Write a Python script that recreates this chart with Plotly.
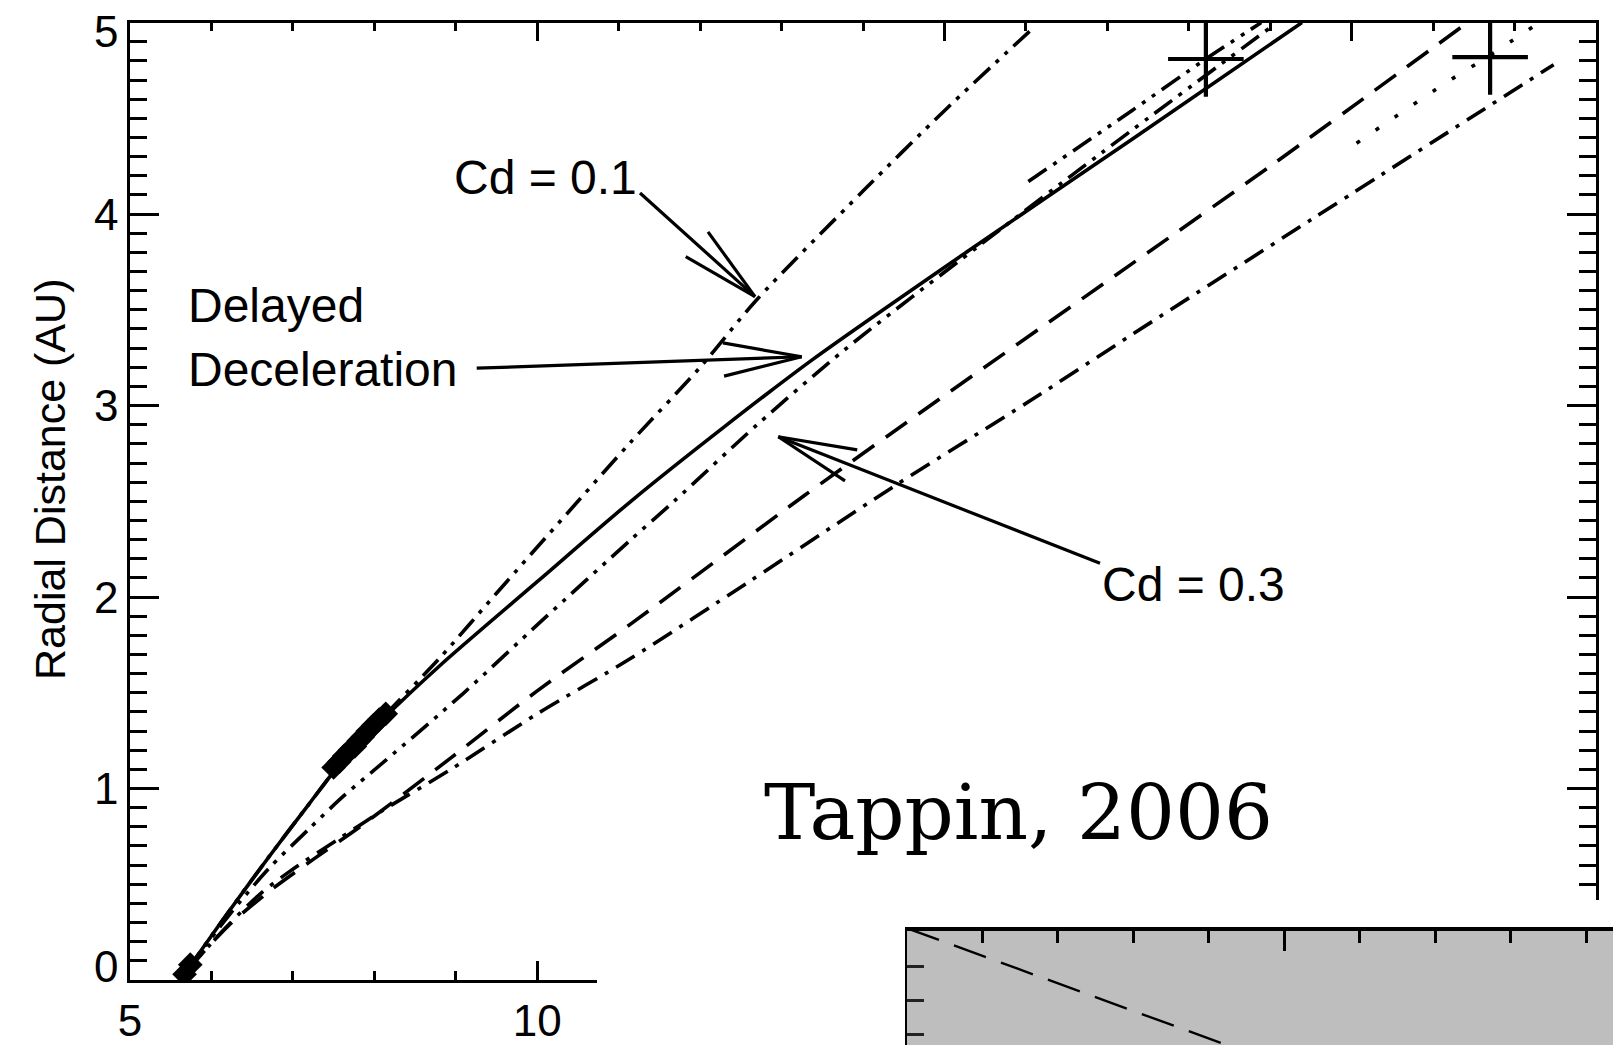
import math
import plotly.graph_objects as go

# ---------------------------------------------------------------------------
# Data: heliocentric distance (AU) against time (days)
# ---------------------------------------------------------------------------
# delayed-deceleration fit (solid)
delayed_t = [5.70, 6.20, 6.70, 7.20, 7.60, 8.10, 8.80, 10.00, 11.15, 12.30, 13.38, 15.30, 17.30, 19.39]
delayed_r = [0.05, 0.35, 0.64, 0.92, 1.14, 1.36, 1.64, 2.08, 2.50, 2.89, 3.24, 3.81, 4.39, 5.00]

# drag fit, Cd = 0.1 (dash-dot-dot, steepest)
cd01_t = [5.70, 6.20, 6.70, 7.20, 7.60, 8.10, 8.80, 9.50, 10.50, 11.15, 12.00, 12.69, 14.00, 15.00, 16.11]
cd01_r = [0.05, 0.35, 0.64, 0.92, 1.14, 1.37, 1.68, 2.02, 2.50, 2.81, 3.20, 3.55, 4.12, 4.54, 4.98]

# drag fit, Cd = 0.3 (dash-dot-dot, just under the solid curve)
cd03_t = [5.70, 6.20, 6.70, 7.20, 7.62, 8.12, 9.10, 10.04, 11.15, 11.68, 12.70, 13.77, 15.41, 16.93, 19.02]
cd03_r = [0.05, 0.33, 0.58, 0.79, 0.96, 1.14, 1.50, 1.87, 2.30, 2.50, 2.90, 3.29, 3.83, 4.32, 4.98]

# dashed fit
dashed_t = [5.70, 6.20, 6.70, 7.25, 7.79, 8.20, 8.94, 10.00, 11.15, 13.28, 14.96, 17.30, 19.00, 21.39]
dashed_r = [0.05, 0.28, 0.46, 0.63, 0.79, 0.92, 1.16, 1.51, 1.86, 2.53, 3.04, 3.74, 4.25, 4.99]

# dash-dot fit (lowest)
dashdot_t = [5.70, 6.19, 6.60, 6.97, 7.54, 8.12, 8.94, 10.00, 11.15, 12.60, 14.35, 16.07, 17.30, 19.50, 22.48]
dashdot_r = [0.05, 0.28, 0.45, 0.57, 0.73, 0.89, 1.10, 1.39, 1.68, 2.08, 2.57, 3.03, 3.37, 3.97, 4.78]

# late refits through the two "+" points
refit_a_t = [16.03, 17.30, 18.21, 18.89]
refit_a_r = [4.17, 4.54, 4.81, 5.00]
refit_b_t = [20.06, 21.10, 21.70, 22.30]
refit_b_r = [4.37, 4.67, 4.83, 5.00]

# observed positions (diamonds) and far-field detections (+)
obs_t = [5.67, 5.74, 7.50, 7.57, 7.63, 7.70, 7.76, 7.81, 7.86, 7.92, 7.99, 8.06, 8.14]
obs_r = [0.03, 0.08, 1.11, 1.14, 1.17, 1.20, 1.22, 1.25, 1.27, 1.30, 1.33, 1.36, 1.39]
cross_t = [18.21, 21.70]
cross_r = [4.81, 4.82]

# axis setup
x_range = [5, 23]
y_range = [0, 5]
x_ticks = [5, 10, 15, 20]
x_ticktext = ["5", "10", "", ""]
x_minor = 1
y_ticks = [0, 1, 2, 3, 4, 5]
y_minor = 0.1

# inset panel (fragment of a second figure)
inset_x = [0.0, 4.70]
inset_y = [3.13, -0.68]

# ---------------------------------------------------------------------------
# Page geometry (pixels)
# ---------------------------------------------------------------------------
W, H = 1613, 1045
PL, PR, PT, PB = 130, 1596, 22.6, 980


def fx(px):
    return px / W


def fy(py):
    return 1 - py / H


SX = (PR - PL) / (x_range[1] - x_range[0])
SY = (PB - PT) / (y_range[1] - y_range[0])

LABEL_FONT = "Liberation Sans Narrow, Arial Narrow, Liberation Sans, Arial"
TEXT_FONT = "Liberation Sans, Arial, Helvetica"
LW = 3.6

fig = go.Figure()


def curve(t, r, dash):
    fig.add_trace(go.Scatter(
        x=t, y=r, mode="lines", xaxis="x", yaxis="y",
        line=dict(color="black", width=LW, dash=dash, shape="spline", smoothing=0.8),
        hoverinfo="skip", showlegend=False,
    ))


DASH3 = "22px,8px,4px,8px,4px,8px"
curve(dashdot_t, dashdot_r, "22px,9px,4px,9px")
curve(dashed_t, dashed_r, "26px,14px")
curve(cd03_t, cd03_r, DASH3)
curve(cd01_t, cd01_r, DASH3)
curve(refit_a_t, refit_a_r, DASH3)
curve(refit_b_t, refit_b_r, "4px,19px")
curve(delayed_t, delayed_r, "solid")

fig.add_trace(go.Scatter(
    x=obs_t, y=obs_r, mode="markers", xaxis="x", yaxis="y",
    marker=dict(symbol="diamond", size=19, color="black", line=dict(width=0)),
    hoverinfo="skip", showlegend=False,
))
fig.add_trace(go.Scatter(
    x=cross_t, y=cross_r, mode="markers", xaxis="x", yaxis="y",
    marker=dict(symbol="cross-thin", size=54, color="black",
                line=dict(width=4.2, color="black")),
    hoverinfo="skip", showlegend=False,
))

# blank panel that hides the lower-right corner of the frame
fig.add_trace(go.Scatter(x=[], y=[], xaxis="x2", yaxis="y2",
                         showlegend=False, hoverinfo="skip"))

# grey inset panel: background fill, then its dashed curve
x3_range = [0, (W - 907) / 75.45]
y3_range = [3.05 - (H - 931) / 34.0, 3.05]
fig.add_trace(go.Scatter(
    x=[x3_range[0], x3_range[1], x3_range[1], x3_range[0], x3_range[0]],
    y=[y3_range[0], y3_range[0], y3_range[1], y3_range[1], y3_range[0]],
    mode="lines", fill="toself", fillcolor="#bebebe",
    line=dict(width=0, color="#bebebe"), xaxis="x3", yaxis="y3",
    hoverinfo="skip", showlegend=False,
))
fig.add_trace(go.Scatter(
    x=inset_x, y=inset_y, mode="lines", xaxis="x3", yaxis="y3",
    line=dict(color="black", width=2.4, dash="34px,16px"),
    hoverinfo="skip", showlegend=False,
))

# ---------------------------------------------------------------------------
# Axes
# ---------------------------------------------------------------------------
tick_font = dict(family=LABEL_FONT, size=44, color="black")
fig.update_layout(
    xaxis=dict(
        domain=[fx(PL), fx(PR)], range=x_range, anchor="y",
        showline=True, linecolor="black", linewidth=2.5, mirror="ticks",
        ticks="inside", tickvals=x_ticks, ticktext=x_ticktext, ticklen=19,
        tickwidth=2.5, tickcolor="black",
        minor=dict(dtick=x_minor, tick0=x_range[0], ticks="inside",
                   ticklen=9, tickwidth=2.5, tickcolor="black", showgrid=False),
        showgrid=False, zeroline=False, tickfont=tick_font,
        ticklabelstandoff=0, ticklabeloverflow="allow", automargin=False,
    ),
    yaxis=dict(
        domain=[fy(PB), fy(PT)], range=y_range, anchor="x",
        showline=True, linecolor="black", linewidth=2.5, mirror="ticks",
        ticks="inside", tickvals=y_ticks, ticklen=29,
        tickwidth=2.5, tickcolor="black", showticklabels=False,
        minor=dict(dtick=y_minor, tick0=0, ticks="inside",
                   ticklen=17, tickwidth=2.5, tickcolor="black", showgrid=False),
        showgrid=False, zeroline=False, automargin=False,
    ),
    xaxis2=dict(domain=[fx(597), 1], anchor="y2", range=[0, 1],
                showline=False, ticks="", showticklabels=False,
                showgrid=False, zeroline=False, automargin=False),
    yaxis2=dict(domain=[0, fy(900)], anchor="x2", range=[0, 1],
                showline=False, ticks="", showticklabels=False,
                showgrid=False, zeroline=False, automargin=False),
    xaxis3=dict(domain=[fx(907), 1], anchor="y3", side="top", range=x3_range,
                showline=True, linecolor="black", linewidth=3.5,
                ticks="inside", tick0=0, dtick=5, ticklen=20, tickwidth=2.5,
                tickcolor="black",
                minor=dict(dtick=1, ticks="inside", ticklen=12, tickwidth=2.5,
                           tickcolor="black", showgrid=False),
                showticklabels=False, showgrid=False, zeroline=False,
                automargin=False),
    yaxis3=dict(domain=[0, fy(931)], anchor="x3", range=y3_range,
                showline=True, linecolor="black", linewidth=2,
                ticks="inside", tickvals=[0, 1, 2], ticklen=17, tickwidth=2.5,
                tickcolor="#222222", showticklabels=False, showgrid=False,
                zeroline=False, automargin=False),
)

# open-headed arrows: (tail t, tail r, tip t, tip r)
arrows = [
    (11.262, 4.110, 12.674, 3.569),   # Cd = 0.1
    (9.257, 3.195, 13.247, 3.255),    # delayed deceleration
    (16.910, 2.176, 12.960, 2.837),   # Cd = 0.3
]
BARB_LEN, BARB_ANG = 80, math.radians(12)
shapes = []
for t0, r0, t1, r1 in arrows:
    line = dict(color="black", width=3.2)
    shapes.append(dict(type="line", xref="x", yref="y", x0=t0, y0=r0, x1=t1, y1=r1,
                       line=line, layer="above"))
    ang = math.atan2(-(r0 - r1) * SY, (t0 - t1) * SX)
    for s in (-1, 1):
        a = ang + s * BARB_ANG
        bt = t1 + BARB_LEN * math.cos(a) / SX
        br = r1 - BARB_LEN * math.sin(a) / SY
        shapes.append(dict(type="line", xref="x", yref="y", x0=t1, y0=r1, x1=bt, y1=br,
                           line=line, layer="above"))
fig.update_layout(shapes=shapes)

ann_font = dict(family=TEXT_FONT, size=48, color="black")
annotations = [
    dict(text="Cd = 0.1", x=fx(452), y=fy(177), xanchor="left", yanchor="middle",
         font=ann_font),
    dict(text="Delayed", x=fx(186), y=fy(305), xanchor="left", yanchor="middle",
         font=ann_font),
    dict(text="Deceleration", x=fx(186), y=fy(369), xanchor="left", yanchor="middle",
         font=ann_font),
    dict(text="Cd = 0.3", x=fx(1100), y=fy(584), xanchor="left", yanchor="middle",
         font=ann_font),
    dict(text="Tappin, 2006", x=fx(762), y=fy(812), xanchor="left", yanchor="middle",
         font=dict(family="DejaVu Serif", size=77, color="black")),
    dict(text="Radial Distance (AU)", x=fx(50), y=fy(480), textangle=-90,
         xanchor="center", yanchor="middle",
         font=dict(family=TEXT_FONT, size=43, color="black")),
]
for a in annotations:
    a.update(xref="paper", yref="paper", showarrow=False)

# y tick labels, kept inside the frame at the two ends of the axis
for v in y_ticks:
    py = PB - (v - y_range[0]) * SY
    shown = min(max(py, PT + 8.5), PB - 14)
    annotations.append(dict(
        text=str(v), x=fx(120), xref="paper", y=v, yref="y",
        xanchor="right", yanchor="middle", yshift=py - shown, showarrow=False,
        font=tick_font,
    ))
fig.update_layout(annotations=annotations)

fig.update_layout(
    width=W, height=H,
    margin=dict(l=0, r=0, t=0, b=0, pad=0),
    paper_bgcolor="white", plot_bgcolor="white",
    showlegend=False,
)

fig.write_html("out.html")
